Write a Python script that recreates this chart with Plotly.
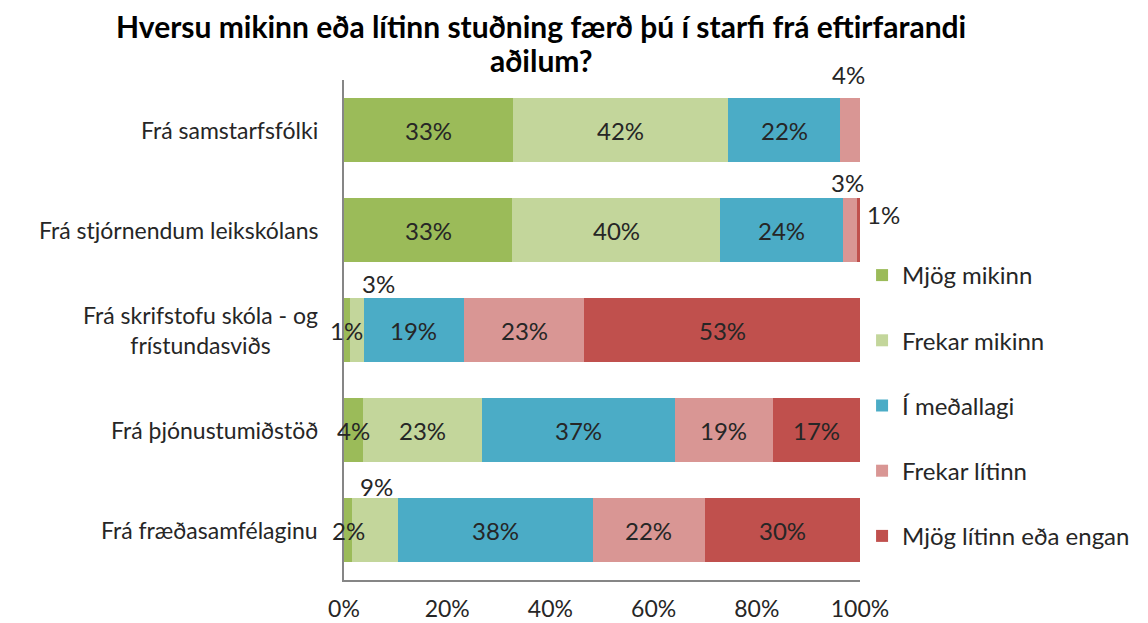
import plotly.graph_objects as go

categories = [
    "Frá samstarfsfólki",
    "Frá stjórnendum leikskólans",
    "Frá skrifstofu skóla - og<br>frístundasviðs",
    "Frá þjónustumiðstöð",
    "Frá fræðasamfélaginu",
]
series_names = ["Mjög mikinn", "Frekar mikinn", "Í meðallagi", "Frekar lítinn", "Mjög lítinn eða engan"]

mjog_mikinn = [32.8, 32.6, 1.1, 3.7, 1.6]
frekar_mikinn = [41.6, 40.3, 2.7, 23.1, 8.9]
i_medallagi = [21.8, 23.8, 19.4, 37.3, 37.7]
frekar_litinn = [3.8, 2.7, 23.4, 19.0, 21.8]
mjog_litinn = [0.0, 0.6, 53.4, 16.9, 30.0]

x_ticks = [0, 20, 40, 60, 80, 100]
x_tick_labels = ["0%", "20%", "40%", "60%", "80%", "100%"]

title_lines = ["Hversu mikinn eða lítinn stuðning færð þú í starfi frá eftirfarandi", "aðilum?"]

series_values = [mjog_mikinn, frekar_mikinn, i_medallagi, frekar_litinn, mjog_litinn]
colors = ["#9BBB59", "#C3D69B", "#4BACC6", "#D99694", "#C0504D"]

# label offsets (pixels) for small segments: (row, series) -> (xshift, yshift)
label_offsets = {
    (0, 3): (-2, 56),
    (1, 3): (-2, 48),
    (1, 4): (25, 16),
    (2, 0): (0, 0),
    (2, 1): (22, 47),
    (3, 0): (0, 0),
    (4, 0): (0, 0),
    (4, 1): (1, 44),
}

FONT = "Lato"
TXT = "#262626"
W, H = 1140, 615
ML, MR, MT, MB = 336, 288, 72, 43

fig = go.Figure()
for name, vals, col in zip(series_names, series_values, colors):
    fig.add_trace(go.Bar(
        name=name, y=categories, x=vals, orientation="h",
        marker=dict(color=col, line=dict(width=0)),
        legendgroup=name,
        hoverinfo="x+y+name",
    ))

annotations = []
for r, cat in enumerate(categories):
    start = 0.0
    for s, vals in enumerate(series_values):
        v = vals[r]
        if v > 0:
            dx, dy = label_offsets.get((r, s), (0, 0))
            annotations.append(dict(
                x=start + v / 2, y=cat, xref="x", yref="y",
                text=f"{round(v)}%", showarrow=False,
                xshift=dx, yshift=dy,
                font=dict(family=FONT, size=24, color=TXT),
            ))
        start += v
    annotations.append(dict(
        x=0, y=cat, xref="paper", yref="y", xanchor="right",
        xshift=-24, text=cat, showarrow=False, align="center",
        font=dict(family=FONT, size=23, color=TXT),
    ))

# title lines (pixel centres from top of figure)
plot_h = H - MT - MB
for line, ypix in zip(title_lines, [18, 52]):
    annotations.append(dict(
        x=(533 - ML) / (W - ML - MR), xref="paper",
        y=1 + (MT - ypix) / plot_h, yref="paper",
        xanchor="center", yanchor="middle",
        text=f"<b>{line}</b>", showarrow=False,
        font=dict(family=FONT, size=30, color="black"),
    ))

fig.update_layout(
    width=W, height=H,
    barmode="stack", bargap=0.36,
    paper_bgcolor="white", plot_bgcolor="white",
    margin=dict(l=ML, r=MR, t=MT, b=MB, autoexpand=False),
    font=dict(family=FONT, size=23, color=TXT),
    xaxis=dict(
        range=[0, 100], tickvals=x_ticks, ticktext=x_tick_labels, automargin=False,
        showgrid=False, zeroline=False, showline=True, linecolor="#868686", linewidth=1.5,
        ticks="", ticklabelstandoff=8, tickfont=dict(family=FONT, size=23, color=TXT),
    ),
    yaxis=dict(
        range=[len(categories) - 0.5, -0.5], showticklabels=False, showgrid=False, zeroline=False,
        automargin=False,
        showline=True, linecolor="#868686", linewidth=1.5, ticks="",
    ),
    legend=dict(
        x=1.004, xanchor="left", y=0.654, yanchor="top",
        traceorder="grouped", tracegroupgap=31,
        font=dict(family=FONT, size=24, color=TXT),
        itemclick=False,
    ),
    annotations=annotations,
    showlegend=True,
)

fig.write_html("out.html")
